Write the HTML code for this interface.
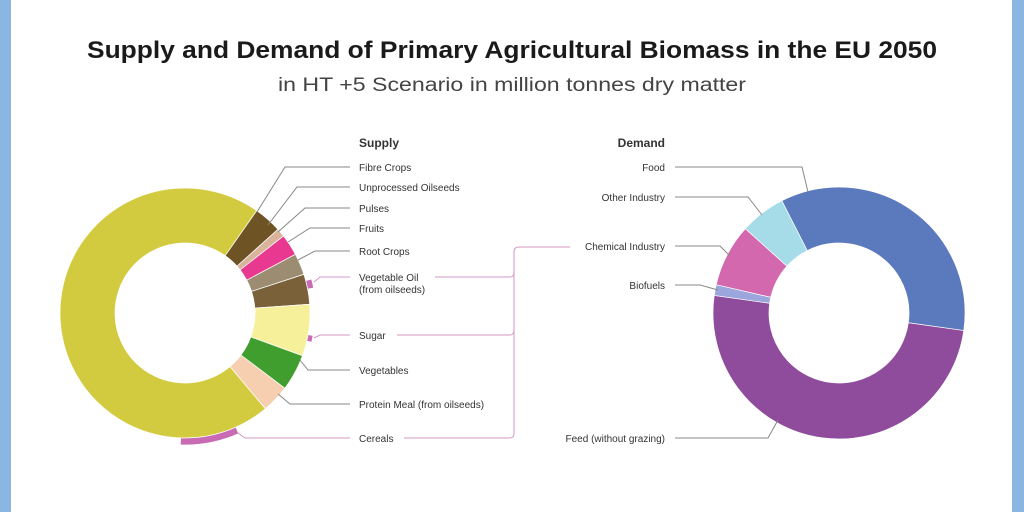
<!DOCTYPE html>
<html><head><meta charset="utf-8"><style>
html,body{margin:0;padding:0;background:#fff;}
svg{display:block;font-family:"Liberation Sans",sans-serif;}
</style></head><body>
<svg id="s" width="1024" height="512" viewBox="0 0 1024 512">
<rect x="0" y="0" width="1024" height="512" fill="#fff"/>
<rect x="0" y="0" width="11" height="512" fill="#8ab6e2"/>
<rect x="1012" y="0" width="12" height="512" fill="#8ab6e2"/>
<text x="512" y="58" text-anchor="middle" font-size="24" font-weight="bold" fill="#1a1a1a" textLength="850" lengthAdjust="spacingAndGlyphs">Supply and Demand of Primary Agricultural Biomass in the EU 2050</text>
<text x="512" y="91" text-anchor="middle" font-size="19" fill="#444" textLength="468" lengthAdjust="spacingAndGlyphs">in HT +5 Scenario in million tonnes dry matter</text>
<g id="arcs"></g>
<g fill="none" stroke="#888" stroke-width="1">
<polyline points="350,167 285,167 257,212"/>
<polyline points="350,187 297,187 268,225"/>
<polyline points="350,208 305,208 278,232"/>
<polyline points="350,228 310,228 288,242"/>
<polyline points="350,251 315,251 298,260"/>
<polyline points="350,370 308,370 300,360"/>
<polyline points="350,404 290,404 278,394"/>
<polyline points="675,167 802,167 808,192"/>
<polyline points="675,197 748,197 762,215"/>
<polyline points="675,246 720,246 730,256"/>
<polyline points="675,285 700,285 718,290"/>
<polyline points="675,438 768,438 778,420"/>
</g>
<g fill="none" stroke="#d49ac4" stroke-width="1">
<polyline points="350,277 320,277 314,282"/>
<polyline points="350,335 320,335 314,338"/>
<polyline points="350,438 245,438 238,433"/>
<polyline points="435,277 510,277"/>
<polyline points="397,335 510,335"/>
<polyline points="404,438 510,438"/>
<path d="M510,438 Q514,438 514,433 L514,252 Q514,247 519,247 L570,247"/>
<path d="M510,277 Q514,277 514,272"/>
<path d="M510,335 Q514,335 514,330"/>
</g>
<g font-size="10" fill="#333">
<text x="359" y="147" font-weight="bold" font-size="12">Supply</text>
<text x="359" y="171">Fibre Crops</text>
<text x="359" y="191">Unprocessed Oilseeds</text>
<text x="359" y="212">Pulses</text>
<text x="359" y="232">Fruits</text>
<text x="359" y="255">Root Crops</text>
<text x="359" y="281">Vegetable Oil</text>
<text x="359" y="293">(from oilseeds)</text>
<text x="359" y="339">Sugar</text>
<text x="359" y="374">Vegetables</text>
<text x="359" y="408">Protein Meal (from oilseeds)</text>
<text x="359" y="442">Cereals</text>
<g text-anchor="end">
<text x="665" y="147" font-weight="bold" font-size="12">Demand</text>
<text x="665" y="171">Food</text>
<text x="665" y="201">Other Industry</text>
<text x="665" y="250">Chemical Industry</text>
<text x="665" y="289">Biofuels</text>
<text x="665" y="442">Feed (without grazing)</text>
</g>
</g>
</svg>
<script>
function arc(cx,cy,r0,r1,a0,a1,col){
 const d=Math.PI/180,p=(r,a)=>[cx+r*Math.cos(a*d),cy+r*Math.sin(a*d)];
 const L=(a1-a0)>180?1:0;
 const [x0,y0]=p(r1,a0),[x1,y1]=p(r1,a1),[x2,y2]=p(r0,a1),[x3,y3]=p(r0,a0);
 return `<path d="M${x0},${y0}A${r1},${r1} 0 ${L} 1 ${x1},${y1}L${x2},${y2}A${r0},${r0} 0 ${L} 0 ${x3},${y3}Z" fill="${col}" stroke="#fff" stroke-width="0.7"/>`;
}
let h='';
const L=[[-55,-42,'#6e5324'],[-42,-38,'#d9b49a'],[-38,-28,'#e8388f'],[-28,-18,'#9c8c72'],[-18,-4,'#7a6139'],[-4,20,'#f7f09a'],[20,37,'#3f9e2e'],[37,50,'#f6cfb0'],[50,305,'#d3cb3f']];
L.forEach(s=>h+=arc(185,313,70,125,s[0],s[1],s[2]));
h+=arc(185,313,125,132,66,92,'#c96ab4');
h+=arc(185,313,125,131,-15,-11,'#c96ab4');
h+=arc(185,313,125,130,10,13,'#c96ab4');
const R=[[-117,8,'#5b79bd'],[8,188,'#8f4b9c'],[188,193,'#9aa6dc'],[193,222,'#d468ae'],[222,243,'#a6dce8']];
R.forEach(s=>h+=arc(839,313,70,126,s[0],s[1],s[2]));
document.getElementById('arcs').innerHTML=h;
</script>
</body></html>
